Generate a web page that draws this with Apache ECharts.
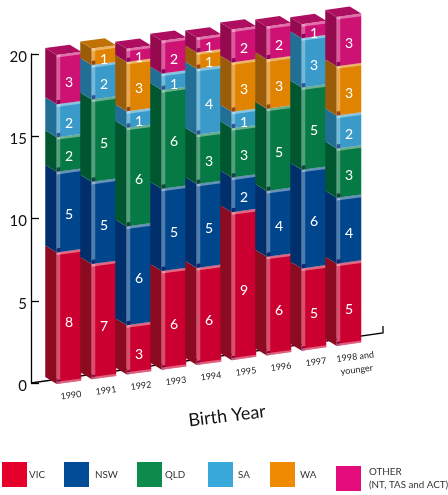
<!DOCTYPE html>
<html>
<head>
<meta charset="utf-8">
<style>html,body{margin:0;padding:0;background:#fff}#c{width:448px;height:495px}</style>
<script src="https://cdn.jsdelivr.net/npm/echarts@6/dist/echarts.min.js"></script>
</head>
<body>
<div id="c"></div>
<script>
const categories = ['1990','1991','1992','1993','1994','1995','1996','1997','1998 and\nyounger'];
const vic   = [8.0, 7.0, 3.0, 6.0, 5.9, 9.0, 6.0, 5.0, 5.0];
const nsw   = [4.9, 5.0, 6.0, 5.0, 5.1, 2.1, 4.0, 6.0, 4.0];
const qld   = [2.1, 5.0, 6.0, 6.0, 3.0, 3.0, 5.0, 5.0, 3.0];
const sa    = [2.0, 2.1, 1.0, 1.0, 4.0, 1.0, 0,   3.0, 2.0];
const wa    = [0,   1.0, 3.0, 0,   1.0, 3.0, 3.0, 0,   3.0];
const other = [3.0, 0,   0.8, 2.0, 0.9, 2.0, 2.0, 0.85, 3.0];
const stateNames = ['VIC','NSW','QLD','SA','WA','OTHER'];
const stateValues = [vic, nsw, qld, sa, wa, other];
const frontColors = ['#cc0030','#00468c','#067a44','#3a9bcb','#e08300','#cd1274'];
const sideColors  = ['#8c0b20','#002f6b','#00562f','#226f96','#9a5c08','#950a4f'];
const topColors   = ['#a80a28','#003a7c','#006638','#2a85b0','#c07206','#ad0e60'];
const legendColors= ['#e4002b','#004c97','#0f8a4d','#39a9dc','#f08a00','#e50d7b'];
const legendLeft  = [2,64,137,208,270,336];
const legendPad   = [-3,1,-2,0,0,3];

const DEPTH_X = 11.5, DEPTH_Y = 7, SHEAR = 0.136, BAR = 0.7;
const FF = '"Lato","Open Sans",sans-serif';

function project(api, cat, val, dx) {
  const p = api.coord([cat, val]);
  const band = api.size([1, 0])[0];
  const w = band * BAR;
  const x = p[0] - w / 2 + dx * w;
  const first = api.coord([0, val])[0] - w / 2;
  return [x, p[1] + 1 - SHEAR * (x - first)];
}

function makeRender(si) {
  return function (params, api) {
    const cat = api.value(0), a = api.value(1), b = api.value(2), v = api.value(3), isTop = api.value(4);
    const w = api.size([1, 0])[0] * BAR;
    const z = cat * 10 + si;
    const bl = project(api, cat, a, 0), br = project(api, cat, a, 1);
    const tl = project(api, cat, b, 0), tr = project(api, cat, b, 1);
    const back = p => [p[0] - DEPTH_X, p[1] - DEPTH_Y];
    const sw = 3.5, slope = (tr[1] - tl[1]) / w;
    const kids = [];
    const poly = (pts, fill, zz) => kids.push({ type: 'polygon', shape: { points: pts }, style: { fill }, z2: zz || z });
    poly([bl, tl, back(tl), back(bl)], sideColors[si]);
    poly([bl, br, tr, tl], frontColors[si]);
    if (isTop) poly([tl, tr, back(tr), back(tl)], topColors[si]);
    // bevel highlights on the front face
    const botCap = 4;
    poly([[bl[0], bl[1] - botCap], [bl[0] + sw, bl[1] - botCap + slope * sw], [tl[0] + sw, tl[1] + slope * sw], tl], 'rgba(255,255,255,0.3)');
    poly([tl, tr, [tr[0], tr[1] + 2.6], [tl[0], tl[1] + 2.6]], 'rgba(255,255,255,0.4)');
    poly([bl, [bl[0] + sw, bl[1] + slope * sw], [bl[0] + sw, bl[1] - botCap + slope * sw], [bl[0], bl[1] - botCap]], 'rgba(50,0,70,0.45)');
    if (si === 0) {
      poly([bl, br, [br[0], br[1] - 2.2], [bl[0], bl[1] - 2.2]], 'rgba(255,255,255,0.38)');
    }
    const mid = project(api, cat, (a + b) / 2, 0.5);
    kids.push({
      type: 'text', x: mid[0], y: mid[1] + (si === 0 ? 6 : 4), z2: z + 1,
      style: { text: String(Math.round(v)), fill: '#fff', font: '14px ' + FF, align: 'center', verticalAlign: 'middle' }
    });
    return { type: 'group', children: kids };
  };
}

const running = categories.map(() => 0);
const lastIdx = categories.map((_, i) => { let k = -1; stateValues.forEach((s, j) => { if (s[i] > 0) k = j; }); return k; });
const barSeries = stateNames.map((name, si) => {
  const rows = [];
  stateValues[si].forEach((v, i) => {
    if (v > 0) rows.push([i, running[i], running[i] + v, v, lastIdx[i] === si ? 1 : 0]);
    running[i] += v;
  });
  return {
    name, type: 'custom', renderItem: makeRender(si), data: rows, silent: true,
    encode: { x: 0, y: [1, 2] }, itemStyle: { color: frontColors[si] }, z: 3
  };
});

const floorSeries = {
  type: 'custom', silent: true, z: 2, data: [[0, 0]], encode: { x: 0, y: 1 },
  renderItem(params, api) {
    const y0 = api.coord([0, 0])[1];
    const x0 = params.coordSys.x - 20.5, x1 = x0 + 352;
    const y1 = y0 - 50;
    return { type: 'polyline', shape: { points: [[x0, y0], [x1, y1], [x1, y1 - 7]] }, style: { stroke: '#000', lineWidth: 1.3, fill: null } };
  }
};

const labelSeries = {
  type: 'custom', silent: true, z: 4,
  data: categories.map((c, i) => [i, 0]), encode: { x: 0, y: 1 },
  renderItem(params, api) {
    const i = api.value(0);
    const p = project(api, i, 0, 0.5);
    return {
      type: 'text', x: p[0] + (i === 8 ? 7 : 2), y: p[1] + (i === 8 ? 19 : 13), rotation: 7 * Math.PI / 180,
      style: { text: categories[i], fill: '#222', font: '9px ' + FF, align: 'center', verticalAlign: 'middle', lineHeight: 13 }
    };
  }
};

const option = {
  animation: false,
  grid: { left: 51.5, top: 54, width: 315, height: 329 },
  xAxis: {
    type: 'category', data: categories,
    axisLine: { show: false }, axisTick: { show: false }, axisLabel: { show: false }, splitLine: { show: false }
  },
  yAxis: {
    type: 'value', min: 0, max: 20, interval: 5, offset: 20.5,
    axisLine: { show: true, onZero: false, lineStyle: { color: '#000', width: 1.3 } },
    axisTick: { show: true, inside: true, length: 8, lineStyle: { color: '#000', width: 1.3 } },
    axisLabel: { margin: 4, fontFamily: FF, fontSize: 15, color: '#111', verticalAlign: 'top', lineHeight: 6 },
    splitLine: { show: false }
  },
  graphic: [{
    type: 'text', x: 227, y: 416, rotation: 7 * Math.PI / 180, silent: true,
    style: { text: 'Birth Year', fill: '#111', font: '18px ' + FF, align: 'center', verticalAlign: 'middle' }
  }],
  legend: stateNames.map((name, i) => ({
    left: legendLeft[i], top: 462, padding: 0, itemWidth: 25, itemHeight: 25, selectedMode: false,
    icon: 'rect',
    data: [{ name, itemStyle: { color: legendColors[i] } }],
    formatter: n => n === 'OTHER' ? 'OTHER\n(NT, TAS and ACT)' : n,
    textStyle: { fontFamily: FF, fontSize: 9.8, color: '#333', lineHeight: 13, padding: [i === 5 ? 7 : -3, 0, 0, legendPad[i]] }
  })),
  series: [floorSeries, ...barSeries, labelSeries]
};
echarts.init(document.getElementById('c')).setOption(option);
</script>
</body>
</html>
